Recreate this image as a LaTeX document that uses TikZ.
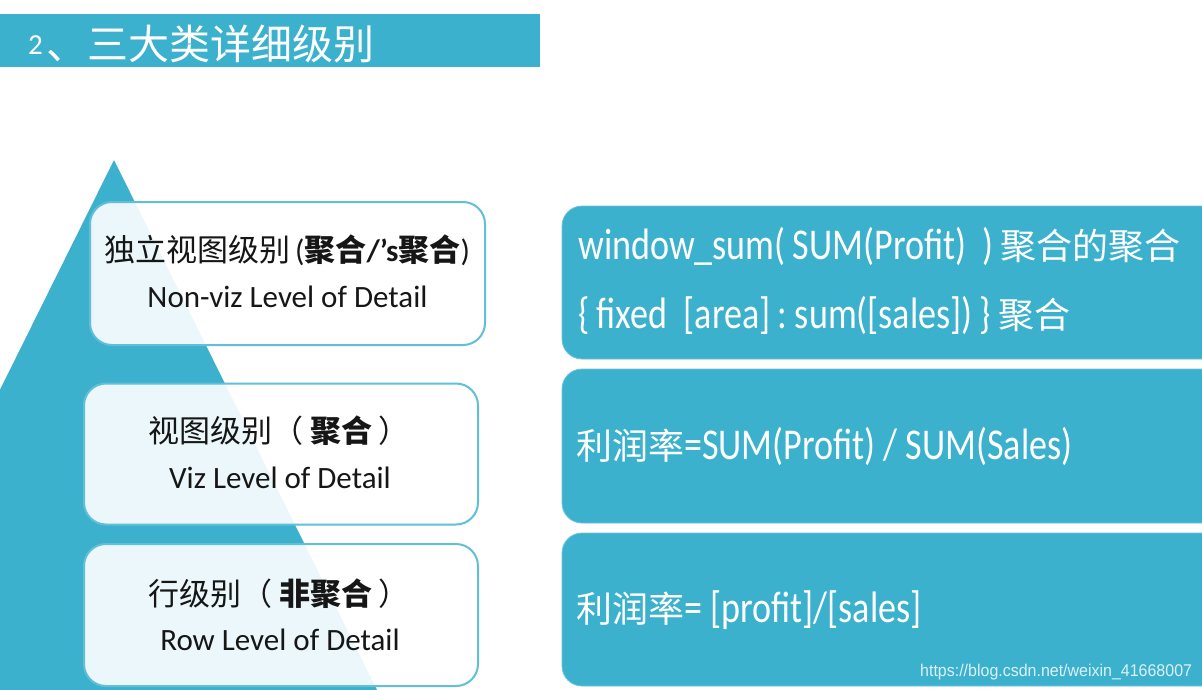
\documentclass[tikz,border=0pt]{standalone}
\usepackage{fontspec}
\setmainfont{Carlito}
\newfontfamily\cjk{Noto Sans CJK SC}
\newfontfamily\latw{Carlito}[FakeStretch=0.82]
\newfontfamily\latn{Carlito}
\newfontfamily\wmfont{Liberation Sans}[FakeStretch=0.94]
\definecolor{tealA}{HTML}{3CB1CD}
\definecolor{tealB}{HTML}{62BFD8}
\definecolor{tealL}{HTML}{6CC4DB}
\definecolor{inkD}{HTML}{161616}
\begin{document}
\begin{tikzpicture}[x=1pt,y=-1pt,
  lbox/.style={draw=tealB, line width=2pt, fill=white, fill opacity=0.9, rounded corners=22pt, inner sep=0pt},
  rbox/.style={draw=tealL, line width=0.8pt, fill=tealA, rounded corners=20pt, inner sep=0pt},
  ltxt/.style={anchor=base, inner sep=0pt, text=inkD},
  rtxt/.style={anchor=base west, inner sep=0pt, text=white}]
\useasboundingbox (0,0) rectangle (1202,690);
\clip (0,0) rectangle (1202,690);
\fill[white] (0,0) rectangle (1202,690);
% header
\fill[tealA] (0,14) rectangle (540,67);
\node[anchor=base west, inner sep=0pt, text=white, font=\fontsize{29}{32}\selectfont] (t2) at (28,54.5) {2};
\node[anchor=base west, inner sep=0pt, text=white, font=\cjk\fontsize{41}{44}\selectfont] (title) at (46,60) {、三大类详细级别};
% pyramid
\fill[tealA] (114,160) -- (377,690) -- (-149,690) -- cycle;
% left boxes
\node[lbox, minimum width=395pt, minimum height=143pt] (b1) at (287.5,273.5) {};
\node[lbox, minimum width=394pt, minimum height=141pt] (b2) at (281,454) {};
\node[lbox, minimum width=394pt, minimum height=142pt] (b3) at (281,615) {};
\node[ltxt, font=\cjk\fontsize{31}{34}\selectfont] (b1a) at (287,261) {独立视图级别\,{\latn (}\textbf{聚合{\latn /’s}聚合}{\latn )}};
\node[ltxt, font=\fontsize{31}{34}\selectfont] (b1b) at (287.5,307) {Non-viz Level of Detail};
\node[ltxt, font=\cjk\fontsize{31}{34}\selectfont] (b2a) at (279,442) {视图级别（ \textbf{聚合} ）};
\node[ltxt, font=\fontsize{31}{34}\selectfont] (b2b) at (280,488) {Viz Level of Detail};
\node[ltxt, font=\cjk\fontsize{31}{34}\selectfont] (b3a) at (279,605) {行级别（ \textbf{非聚合} ）};
\node[ltxt, font=\fontsize{31}{34}\selectfont] (b3b) at (280,650) {Row Level of Detail};
% right boxes
\node[rbox, minimum width=678pt, minimum height=153pt] (r1) at (901,282.5) {};
\node[rbox, minimum width=678pt, minimum height=154pt] (r2) at (901,446) {};
\node[rbox, minimum width=678pt, minimum height=153pt] (r3) at (901,609.5) {};
\node[rtxt, font=\latw\fontsize{44}{48}\selectfont] (r1a) at (578,259) {window\_sum(\,SUM(Profit)\ \ )\,{\cjk\fontsize{36}{40}\selectfont 聚合的聚合}};
\node[rtxt, font=\latw\fontsize{44}{48}\selectfont] (r1b) at (578,328) {\{\,fixed\ \ [area]\,:\,sum([sales])\,\}\,{\cjk\fontsize{36}{40}\selectfont 聚合}};
\node[rtxt, font=\latw\fontsize{44}{48}\selectfont] (r2a) at (576,459) {{\cjk\fontsize{36}{40}\selectfont 利润率}=SUM(Profit) / SUM(Sales)};
\node[rtxt, font=\latw\fontsize{44}{48}\selectfont] (r3a) at (576,622) {{\cjk\fontsize{36}{40}\selectfont 利润率}= [profit]/[sales]};
% watermark
\node[anchor=base west, inner sep=0pt, text=white, text opacity=0.82, font=\wmfont\fontsize{17}{20}\selectfont] (wm) at (920,676) {https://blog.csdn.net/weixin\_41668007};
\end{tikzpicture}
\end{document}
